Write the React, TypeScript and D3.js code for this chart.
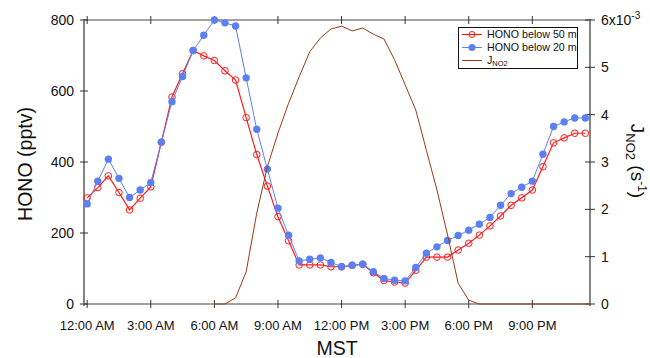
import React from "react";
import * as d3 from "d3";

const hours: number[] = Array.from({ length: 48 }, (_, i) => i * 0.5);
const honoBelow50: number[] = [299,328,361,314,265,298,330,456,583,649,714,699,686,657,631,525,421,332,246,178,110,110,110,105,105,109,112,88,66,62,59,95,132,132,132,152,171,194,220,248,278,299,321,387,454,468,481,481];
const honoBelow20: number[] = [282,346,408,354,300,321,342,456,570,641,714,757,800,792,783,637,492,380,270,194,121,126,130,117,105,109,112,91,72,67,65,103,143,161,179,193,208,225,244,278,311,329,346,422,500,513,524,524];
const jHours: number[] = Array.from({ length: 36 }, (_, i) => 6 + i * 0.5);
const jNO2: number[] = [0,0,0.13,0.68,1.92,2.9,3.61,4.24,4.8,5.33,5.62,5.81,5.87,5.77,5.83,5.7,5.6,5.16,4.63,4.1,3.25,2.41,1.46,0.44,0.08,0,0,0,0,0,0,0,0,0,0,0];
const xTicks: number[] = [0, 3, 6, 9, 12, 15, 18, 21];
const xTickLabels: string[] = ["12:00 AM","3:00 AM","6:00 AM","9:00 AM","12:00 PM","3:00 PM","6:00 PM","9:00 PM"];
const yTicks: number[] = [0, 200, 400, 600, 800];
const y2Ticks: number[] = [0, 1, 2, 3, 4, 5, 6];

const RED = "#ff1a1a";
const BLUE = "#5b80f2";
const BROWN = "#9a3a14";
const AXIS = "#777";
const FONT = "Liberation Sans, Arial, Helvetica, sans-serif";

export default function App() {
  const left = 84, right = 590, top = 20, bottom = 304;
  const x = d3.scaleLinear().domain([-0.15, 23.72]).range([left, right]);
  const y = d3.scaleLinear().domain([0, 800]).range([bottom, top]);
  const y2 = d3.scaleLinear().domain([0, 6]).range([bottom, top]);

  const line = d3.line<number>().x((_, i) => x(hours[i])).y((d) => y(d));
  const jLine = d3.line<number>().x((_, i) => x(jHours[i])).y((d) => y2(d));

  return (
    <svg width={650} height={358} style={{ position: "absolute", left: 0, top: 0, background: "#fff" }} fontFamily={FONT}>
      <line x1={left} x2={right} y1={top} y2={top} stroke="#444" strokeWidth={1.2} />
      <line x1={left} x2={right} y1={bottom} y2={bottom} stroke="#444" strokeWidth={1.2} />
      <line x1={left} x2={left} y1={top - 1} y2={bottom + 2} stroke={AXIS} strokeWidth={1.8} />
      <line x1={right} x2={right} y1={top - 1} y2={bottom + 2} stroke={AXIS} strokeWidth={1.8} />

      {xTicks.map((t, i) => (
        <g key={"xt" + i}>
          <line x1={x(t)} x2={x(t)} y1={bottom - 4} y2={bottom + 4} stroke="#333" strokeWidth={1} />
          <line x1={x(t)} x2={x(t)} y1={top - 4} y2={top + 4} stroke="#333" strokeWidth={1} />
          <text x={x(t)} y={330} fontSize={13} textAnchor="middle" fill="#111">{xTickLabels[i]}</text>
        </g>
      ))}
      {yTicks.map((t) => (
        <g key={"yt" + t}>
          <line x1={left - 4} x2={left + 4} y1={y(t)} y2={y(t)} stroke="#333" strokeWidth={1} />
          <text x={74} y={y(t) + 5} fontSize={14} textAnchor="end" fill="#111">{t}</text>
        </g>
      ))}
      {y2Ticks.map((t) => (
        <g key={"y2t" + t}>
          <line x1={right - 5} x2={right + 5} y1={y2(t)} y2={y2(t)} stroke="#333" strokeWidth={1} />
          {t === 6 ? (
            <text x={601} y={y2(t) + 5} fontSize={14} fill="#111">
              6x10<tspan dy={-6} fontSize={10}>-3</tspan>
            </text>
          ) : (
            <text x={601} y={y2(t) + 5} fontSize={14} fill="#111">{t}</text>
          )}
        </g>
      ))}

      <text transform={`translate(32,164) rotate(-90)`} fontSize={19.5} textAnchor="middle" fill="#111">HONO (pptv)</text>
      <text x={337} y={355} fontSize={19.5} textAnchor="middle" fill="#111">MST</text>
      <text transform={`translate(631,161) rotate(90)`} fontSize={19} textAnchor="middle" fill="#111">
        J<tspan fontSize={13} dy={5}>NO2</tspan><tspan dy={-5}> (s</tspan><tspan fontSize={12} dy={-7}>-1</tspan><tspan dy={7}>)</tspan>
      </text>

      <path d={line(honoBelow50) || ""} fill="none" stroke={RED} strokeWidth={1.2} />
      {honoBelow50.map((v, i) => (
        <circle key={"r" + i} cx={x(hours[i])} cy={y(v)} r={3.3} fill="none" stroke={RED} strokeWidth={1} />
      ))}
      <path d={line(honoBelow20) || ""} fill="none" stroke={BLUE} strokeWidth={1} />
      {honoBelow20.map((v, i) => (
        <circle key={"b" + i} cx={x(hours[i])} cy={y(v)} r={3.7} fill={BLUE} />
      ))}
      <path d={jLine(jNO2) || ""} fill="none" stroke={BROWN} strokeWidth={1} />

      <rect x={458.5} y={27.5} width={119} height={41} fill="#fff" stroke="#111" strokeWidth={1} />
      <line x1={462} x2={482} y1={34.5} y2={34.5} stroke={RED} strokeWidth={1.2} />
      <circle cx={472} cy={34.5} r={3} fill="none" stroke={RED} strokeWidth={1} />
      <text x={487} y={38.3} fontSize={10.7} fill="#111">HONO below 50 m</text>
      <line x1={462} x2={482} y1={47.5} y2={47.5} stroke={BLUE} strokeWidth={1} />
      <circle cx={472} cy={47.5} r={3.5} fill={BLUE} />
      <text x={487} y={51.3} fontSize={10.7} fill="#111">HONO below 20 m</text>
      <line x1={462} x2={482} y1={60.5} y2={60.5} stroke={BROWN} strokeWidth={1} />
      <text x={487} y={63.5} fontSize={10.7} fill="#111">J<tspan fontSize={7.5} dy={2.5}>NO2</tspan></text>
    </svg>
  );
}
